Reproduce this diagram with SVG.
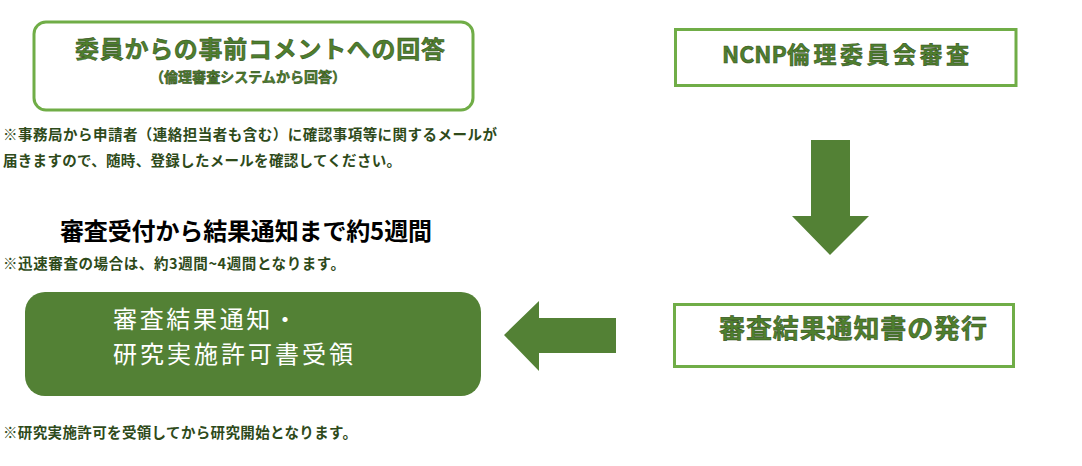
<svg xmlns="http://www.w3.org/2000/svg" width="1082" height="466" viewBox="0 0 1082 466">
<style>
.jp{font-family:"Noto Sans CJK JP","Noto Sans CJK SC",sans-serif;}
.box{fill:#fff;stroke:#70AD47;stroke-width:3}
.gt{fill:#4F7F2E;stroke:#2E4A1A;stroke-width:0.5;font-weight:bold}
.note{fill:#2E4A1A;font-weight:bold;font-size:14.5px}
.arrow{fill:#538135}
</style>
<rect width="1082" height="466" fill="#fff"/>
<g id="node-comment">
<rect x="34" y="22" width="439" height="88" rx="12" class="box" stroke-width="4"/>
<text x="75" y="58" class="jp gt" font-size="24" textLength="370">委員からの事前コメントへの回答</text>
<text x="150" y="82" class="jp gt" font-size="14" textLength="196">（倫理審査システムから回答）</text>
</g>
<g id="note1">
<text x="3" y="140" class="jp note" textLength="494">※事務局から申請者（連絡担当者も含む）に確認事項等に関するメールが</text>
<text x="3" y="166" class="jp note" textLength="398">届きますので、随時、登録したメールを確認してください。</text>
</g>
<g id="duration">
<text x="60" y="240" class="jp" font-size="24" font-weight="bold" fill="#000" textLength="372">審査受付から結果通知まで約5週間</text>
<text x="3" y="269" class="jp note" textLength="342">※迅速審査の場合は、約3週間~4週間となります。</text>
</g>
<g id="node-receive">
<rect x="25" y="292" width="456" height="104" rx="20" fill="#538135"/>
<text x="113" y="328" class="jp" font-size="24" fill="#fff" textLength="184">審査結果通知・</text>
<text x="113" y="363" class="jp" font-size="24" fill="#fff" textLength="240">研究実施許可書受領</text>
</g>
<g id="note2">
<text x="3" y="438" class="jp note" textLength="354">※研究実施許可を受領してから研究開始となります。</text>
</g>
<g id="node-review">
<rect x="675.5" y="29.5" width="340.5" height="56" class="box"/>
<text x="722" y="63" class="jp gt" font-size="23"><tspan>NCNP</tspan><tspan letter-spacing="3.5">倫理委員会審査</tspan></text>
</g>
<g id="node-issue">
<rect x="674.5" y="304.5" width="339" height="62" class="box"/>
<text x="719" y="338" class="jp gt" font-size="26" textLength="268">審査結果通知書の発行</text>
</g>
<g id="connectors">
<polygon class="arrow" points="811,140 850,140 850,216 869,216 830,255 792,216 811,216"/>
<polygon class="arrow" points="616,318 539,318 539,301 504,335 539,371 539,353 616,353"/>
</g>
</svg>
